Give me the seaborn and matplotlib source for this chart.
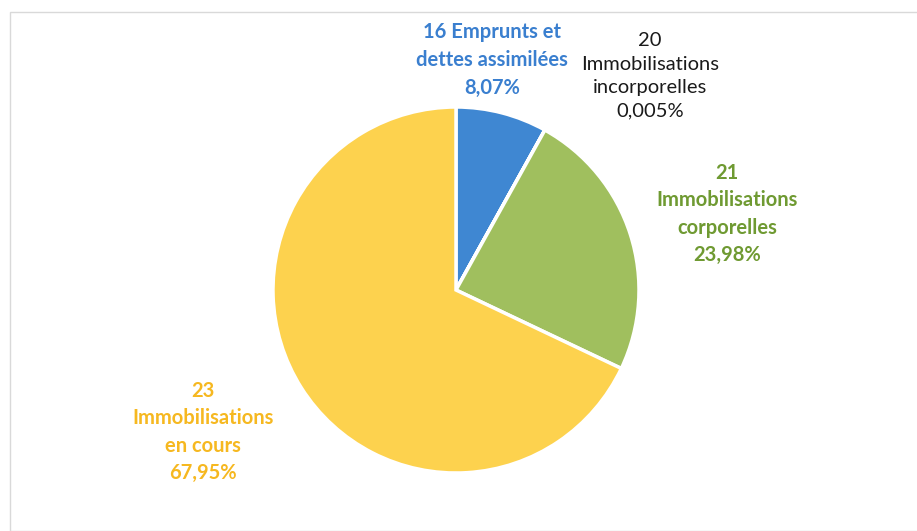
import matplotlib
matplotlib.use('Agg')
import matplotlib.pyplot as plt
import seaborn as sns
from matplotlib.patches import Rectangle

# data
codes = ['16', '20', '21', '23']
names = ['Emprunts et\ndettes assimilées', 'Immobilisations\nincorporelles',
         'Immobilisations\ncorporelles', 'Immobilisations\nen cours']
shares = [8.07, 0.005, 23.98, 67.95]
pct_text = ['8,07%', '0,005%', '23,98%', '67,95%']

slice_colors = ['#3f87d2', '#a5a5a5', '#a0bf5e', '#fdd24e']
text_colors = ['#3a7fcf', '#1a1a1a', '#6f9a32', '#f6b820']
text_weight = ['bold', 'normal', 'bold', 'bold']

sns.set_style('white')
plt.rcParams['font.family'] = ['Lato', 'DejaVu Sans']

W, H = 917, 531
cx, cy, R = 456, 290, 183
fig = plt.figure(figsize=(W / 100, H / 100), dpi=100)
ax = fig.add_axes([0, 0, 1, 1])

ax.pie(shares, colors=slice_colors, startangle=90, counterclock=False,
       radius=1, wedgeprops=dict(edgecolor='white', linewidth=2.5))

# pie() resets the limits, so set them afterwards
ax.set_xlim(-cx / R, (W - cx) / R)
ax.set_ylim(-(H - cy) / R, cy / R)
ax.set_aspect('equal')
ax.axis('off')

# label positions (pixel centers of each text block)
label_px = [(492, 60), (650, 76), (727, 214), (203, 432)]
for i, (px, py) in enumerate(label_px):
    if i == 0:
        txt = codes[i] + ' ' + names[i] + '\n' + pct_text[i]
    else:
        txt = codes[i] + '\n' + names[i] + '\n' + pct_text[i]
    ax.text((px - cx) / R, (cy - py) / R, txt, ha='center', va='center',
            fontsize=14.5, color=text_colors[i], fontweight=text_weight[i],
            linespacing=1.47)

# faint frame of the original chart area
fig.add_artist(Rectangle((10 / W, 0), 1, 1 - 12 / H, transform=fig.transFigure,
                         fill=False, edgecolor='#d9d9d9', linewidth=1))

fig.savefig('out.png', dpi=100)
